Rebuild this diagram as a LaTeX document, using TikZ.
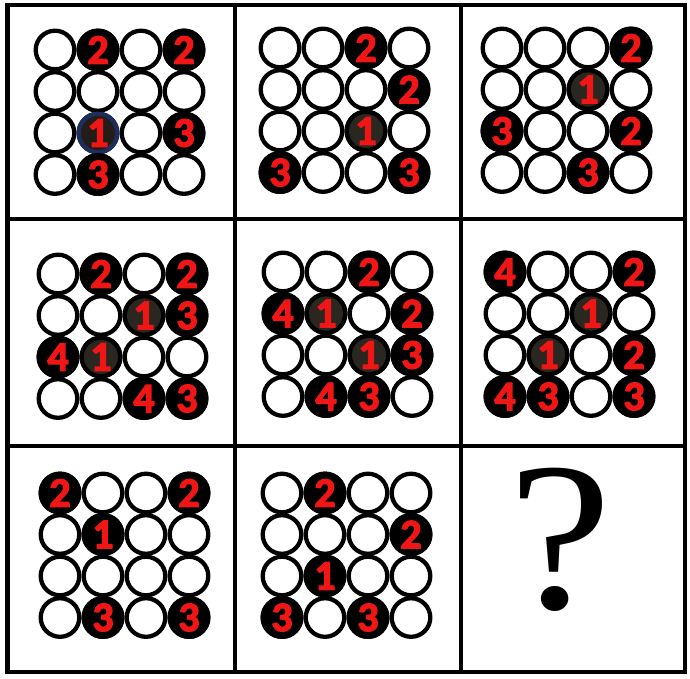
\documentclass[tikz,border=0pt]{standalone}
\usepackage{fontspec}
\newfontfamily\numfont{Carlito}[BoldFeatures={FakeBold=3}]
\newfontfamily\qfont{Liberation Serif}
\definecolor{numred}{RGB}{240,22,22}
\newcommand\numtxt[1]{{\numfont\bfseries\fontsize{42}{42}\selectfont\raisebox{-2pt}{#1}}}
\definecolor{onefill}{RGB}{42,39,32}
\definecolor{onefillb}{RGB}{34,30,23}
\definecolor{oneblue}{RGB}{28,45,94}
\tikzset{
  dot/.style={circle, draw=black, line width=4.3pt, minimum size=38.6pt, inner sep=0pt, fill=white},
  blk/.style={dot, fill=black, text=numred},
  one/.style={blk, fill=onefill},
  oneb/.style={blk, fill=onefillb, draw=oneblue},
  black1/.style={blk},
  gridline/.style={line width=4.5pt, line cap=rect},
}
% #1 name, #2 ox, #3 oy
\newcommand\drawcell[3]{%
  \foreach \r in {1,...,4}{\foreach \c in {1,...,4}{
    \node[dot] (#1-\r-\c) at ({#2+(\c-1)*43},{#3+(\r-1)*41.5}) {};}}}
% #1 name, #2 ox, #3 oy, #4 row, #5 col, #6 style, #7 label
\newcommand\fillc[7]{%
  \node[#6] (#1-f-#4-#5) at ({#2+(#5-1)*43},{#3+(#4-1)*41.5}) {\numtxt{#7}};}
\begin{document}
\begin{tikzpicture}[x=1pt,y=-1pt]
\useasboundingbox (0,0) rectangle (690,678);
\fill[white] (0,0) rectangle (690,678);
% grid
\coordinate (tl) at (7.5,5);
\coordinate (br) at (685,672);
\draw[gridline] (tl) rectangle (br);
\coordinate (v1t) at (235,5);   \coordinate (v1b) at (235,672);
\coordinate (v2t) at (461,5);   \coordinate (v2b) at (461,672);
\coordinate (h1l) at (7.5,219); \coordinate (h1r) at (685,219);
\coordinate (h2l) at (7.5,446); \coordinate (h2r) at (685,446);
\draw[gridline] (v1t) -- (v1b);
\draw[gridline] (v2t) -- (v2b);
\draw[gridline] (h1l) -- (h1r);
\draw[gridline] (h2l) -- (h2r);
% cell 1
\drawcell{a}{55}{50}
\fillc{a}{55}{50}{1}{2}{blk}{2}
\fillc{a}{55}{50}{1}{4}{blk}{2}
\fillc{a}{55}{50}{3}{2}{oneb}{1}
\fillc{a}{55}{50}{3}{4}{blk}{3}
\fillc{a}{55}{50}{4}{2}{blk}{3}
% cell 2
\drawcell{b}{280}{48}
\fillc{b}{280}{48}{1}{3}{blk}{2}
\fillc{b}{280}{48}{2}{4}{blk}{2}
\fillc{b}{280}{48}{3}{3}{one}{1}
\fillc{b}{280}{48}{4}{1}{blk}{3}
\fillc{b}{280}{48}{4}{4}{blk}{3}
% cell 3
\drawcell{c}{502}{48}
\fillc{c}{502}{48}{1}{4}{blk}{2}
\fillc{c}{502}{48}{2}{3}{one}{1}
\fillc{c}{502}{48}{3}{1}{blk}{3}
\fillc{c}{502}{48}{3}{4}{blk}{2}
\fillc{c}{502}{48}{4}{3}{blk}{3}
% cell 4
\drawcell{d}{58}{274}
\fillc{d}{58}{274}{1}{2}{blk}{2}
\fillc{d}{58}{274}{1}{4}{blk}{2}
\fillc{d}{58}{274}{2}{3}{one}{1}
\fillc{d}{58}{274}{2}{4}{blk}{3}
\fillc{d}{58}{274}{3}{1}{blk}{4}
\fillc{d}{58}{274}{3}{2}{one}{1}
\fillc{d}{58}{274}{4}{3}{blk}{4}
\fillc{d}{58}{274}{4}{4}{blk}{3}
% cell 5
\drawcell{e}{283}{272}
\fillc{e}{283}{272}{1}{3}{blk}{2}
\fillc{e}{283}{272}{2}{1}{blk}{4}
\fillc{e}{283}{272}{2}{2}{one}{1}
\fillc{e}{283}{272}{2}{4}{blk}{2}
\fillc{e}{283}{272}{3}{3}{one}{1}
\fillc{e}{283}{272}{3}{4}{blk}{3}
\fillc{e}{283}{272}{4}{2}{blk}{4}
\fillc{e}{283}{272}{4}{3}{blk}{3}
% cell 6
\drawcell{f}{505}{272}
\fillc{f}{505}{272}{1}{1}{blk}{4}
\fillc{f}{505}{272}{1}{4}{blk}{2}
\fillc{f}{505}{272}{2}{3}{one}{1}
\fillc{f}{505}{272}{3}{2}{one}{1}
\fillc{f}{505}{272}{3}{4}{blk}{2}
\fillc{f}{505}{272}{4}{1}{blk}{4}
\fillc{f}{505}{272}{4}{2}{blk}{3}
\fillc{f}{505}{272}{4}{4}{blk}{3}
% cell 7
\drawcell{g}{60}{493}
\fillc{g}{60}{493}{1}{1}{blk}{2}
\fillc{g}{60}{493}{1}{4}{blk}{2}
\fillc{g}{60}{493}{2}{2}{black1}{1}
\fillc{g}{60}{493}{4}{2}{blk}{3}
\fillc{g}{60}{493}{4}{4}{blk}{3}
% cell 8
\drawcell{h}{282}{493}
\fillc{h}{282}{493}{1}{2}{blk}{2}
\fillc{h}{282}{493}{2}{4}{blk}{2}
\fillc{h}{282}{493}{3}{2}{black1}{1}
\fillc{h}{282}{493}{4}{1}{blk}{3}
\fillc{h}{282}{493}{4}{3}{blk}{3}
% cell 9
\node[inner sep=0pt, xscale=1.1] (q) at (560,540) {\qfont\fontsize{212}{212}\selectfont ?};
\end{tikzpicture}
\end{document}
